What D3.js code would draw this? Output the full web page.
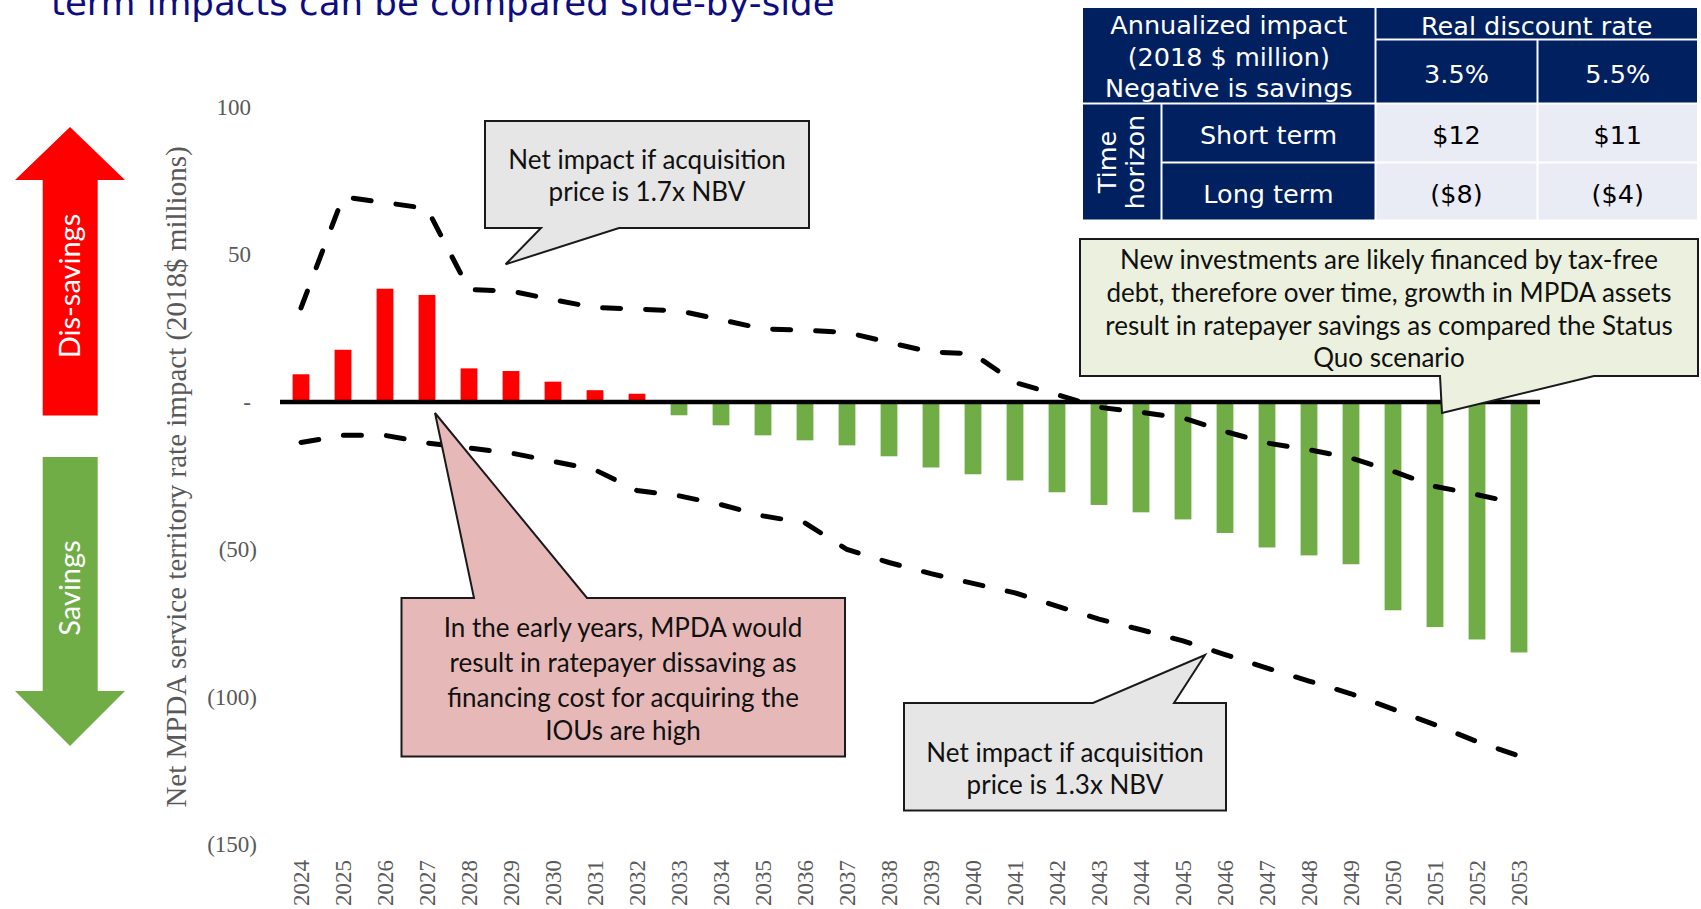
<!DOCTYPE html>
<html>
<head>
<meta charset="utf-8">
<script src="https://cdn.jsdelivr.net/npm/d3@7"></script>
<style>
body { margin: 0; background: #fff; }
svg { display: block; }
</style>
</head>
<body>
<div id="chart"></div>
<script>
// chart values ($ millions, 2018$)
var years = [2024, 2025, 2026, 2027, 2028, 2029, 2030, 2031, 2032, 2033,
             2034, 2035, 2036, 2037, 2038, 2039, 2040, 2041, 2042, 2043,
             2044, 2045, 2046, 2047, 2048, 2049, 2050, 2051, 2052, 2053];
var netImpact = [9.4, 17.7, 38.4, 36.3, 11.4, 10.5, 6.9, 4.0, 2.8, -4.5,
                 -7.9, -11.3, -13.0, -14.7, -18.4, -22.2, -24.5, -26.6, -30.6, -34.9,
                 -37.4, -39.8, -44.4, -49.3, -52.0, -55.0, -70.6, -76.3, -80.5, -84.9];
var high17 = [31.9, 69.5, 67.6, 65.6, 38.1, 37.6, 34.7, 32.0, 31.5, 30.9,
              27.9, 24.8, 24.3, 23.6, 20.2, 16.9, 16.4, 6.6, 2.5, -1.8,
              -3.5, -5.4, -10.0, -13.9, -16.2, -19.0, -23.5, -28.6, -31.4, -34.5];
var low13 = [-13.7, -11.3, -11.3, -13.9, -15.6, -17.3, -20.1, -23.0, -30.0, -31.8,
             -34.8, -38.6, -41.0, -50.0, -54.4, -58.2, -61.5, -64.7, -69.2, -73.6,
             -77.2, -81.0, -85.6, -90.2, -94.6, -98.9, -104.1, -109.4, -115.1, -120.0];
var yTicks = [100, 50, 0, -50, -100, -150];

// summary table
var tableHead = ["Annualized impact", "(2018 $ million)", "Negative is savings"];
var tableRates = ["3.5%", "5.5%"];
var tableHorizons = ["Short term", "Long term"];
var tableValues = [["$12", "$11"], ["($8)", "($4)"]];

var width = 1701, height = 909;
var navy = "#002060";
var serif = "'Liberation Serif', 'Times New Roman', serif";
var sans = "'DejaVu Sans', Verdana, sans-serif";
var calib = "Lato, 'Open Sans', sans-serif";

var svg = d3.select("#chart").append("svg")
    .attr("width", width)
    .attr("height", height);

// title (cut off at top in the original slide)
svg.append("text")
    .attr("x", 51)
    .attr("y", 15)
    .style("font-family", sans)
    .style("font-size", "35.6px")
    .style("fill", "#0d0d80")
    .text("term impacts can be compared side-by-side");

var x = d3.scaleBand()
    .domain(years)
    .range([280, 1540])
    .paddingInner(0.6)
    .paddingOuter(0.3);

var y = d3.scaleLinear()
    .domain([-150, 100])
    .range([844.5, 107]);

var bw = x.bandwidth();

// y axis labels
function yFmt(v) {
    if (v < 0) return "(" + Math.abs(v) + ")";
    if (v == 0) return "-";
    return String(v);
}

var yAxis = svg.append("g")
    .attr("transform", "translate(257,0)")
    .call(d3.axisLeft(y).tickValues(yTicks).tickSize(0).tickPadding(0).tickFormat(yFmt));
yAxis.select(".domain").remove();
yAxis.selectAll("text")
    .style("font-family", serif)
    .style("font-size", "23px")
    .style("fill", "#595959")
    .attr("dx", function(d) { return d >= 0 ? -6 : 0; });

svg.append("text")
    .attr("transform", "translate(186,477) rotate(-90)")
    .attr("text-anchor", "middle")
    .style("font-family", serif)
    .style("font-size", "29px")
    .style("fill", "#595959")
    .text("Net MPDA service territory rate impact (2018$ millions)");

// x axis labels
var xAxis = svg.append("g")
    .attr("transform", "translate(0,860)")
    .call(d3.axisBottom(x).tickSize(0));
xAxis.select(".domain").remove();
xAxis.selectAll("text")
    .attr("transform", "rotate(-90)")
    .attr("x", 0)
    .attr("y", 0)
    .attr("dy", "0.35em")
    .style("text-anchor", "end")
    .style("font-family", serif)
    .style("font-size", "23px")
    .style("fill", "#595959");

// bars
svg.append("g").selectAll("rect")
    .data(years)
    .enter()
    .append("rect")
    .attr("x", function(d) { return x(d); })
    .attr("width", bw)
    .attr("y", function(d, i) { return y(Math.max(0, netImpact[i])); })
    .attr("height", function(d, i) { return Math.abs(y(netImpact[i]) - y(0)); })
    .style("fill", function(d, i) { return netImpact[i] >= 0 ? "#ff0000" : "#70ad47"; });

// zero line
svg.append("line")
    .attr("x1", 280)
    .attr("x2", 1540)
    .attr("y1", y(0))
    .attr("y2", y(0))
    .style("stroke", "#000")
    .style("stroke-width", 4.5);

// dashed scenario lines
var line = d3.line()
    .x(function(d) { return x(d.year) + bw / 2; })
    .y(function(d) { return y(d.v); });

[high17, low13].forEach(function(series) {
    var pts = years.map(function(yr, i) { return {year: yr, v: series[i]}; });
    svg.append("path")
        .datum(pts)
        .attr("d", line)
        .style("fill", "none")
        .style("stroke", "#000")
        .style("stroke-width", 5)
        .style("stroke-linecap", "round")
        .style("stroke-dasharray", "18,25");
});

// side arrows
svg.append("path")
    .attr("d", "M70,127 L125,180 L97.7,180 L97.7,415.5 L42.7,415.5 L42.7,180 L15,180 Z")
    .style("fill", "#ff0000");
svg.append("path")
    .attr("d", "M42.7,457 L97.7,457 L97.7,691 L125,691 L70,746 L15,691 L42.7,691 Z")
    .style("fill", "#70ad47");

svg.append("text")
    .attr("transform", "translate(80,286) rotate(-90)")
    .attr("text-anchor", "middle")
    .style("font-family", calib)
    .style("font-size", "29px")
    .style("fill", "#fff")
    .text("Dis-savings");
svg.append("text")
    .attr("transform", "translate(80,588) rotate(-90)")
    .attr("text-anchor", "middle")
    .style("font-family", calib)
    .style("font-size", "29px")
    .style("fill", "#fff")
    .text("Savings");

// callouts
var callouts = [
    {path: "M485,121 H809 V228 H619 L505.6,264.3 L541,228 H485 Z", fill: "#e6e6e6",
     cx: 647, lines: ["Net impact if acquisition", "price is 1.7x NBV"], ys: [160, 191.7]},
    {path: "M1080,239 H1698 V376 H1594 L1442,413 L1440,376 H1080 Z", fill: "#ebf1de",
     cx: 1389, lines: ["New investments are likely financed by tax-free",
                       "debt, therefore over time, growth in MPDA assets",
                       "result in ratepayer savings as compared the Status",
                       "Quo scenario"], ys: [260, 293, 325.5, 358]},
    {path: "M401.5,598 H474 L435,413 L587,598 H845 V756.5 H401.5 Z", fill: "#e6b9b8",
     cx: 623, lines: ["In the early years, MPDA would", "result in ratepayer dissaving as",
                      "financing cost for acquiring the", "IOUs are high"],
     ys: [627.5, 663, 697.5, 730.5]},
    {path: "M904,703 H1093 L1205,655 L1174,703 H1226 V810.5 H904 Z", fill: "#e6e6e6",
     cx: 1065, lines: ["Net impact if acquisition", "price is 1.3x NBV"], ys: [753.3, 785]}
];

callouts.forEach(function(c) {
    var g = svg.append("g");
    g.append("path")
        .attr("d", c.path)
        .style("fill", c.fill)
        .style("stroke", "#1a1a1a")
        .style("stroke-width", 2);
    g.selectAll("text")
        .data(c.lines)
        .enter()
        .append("text")
        .attr("x", c.cx)
        .attr("y", function(d, i) { return c.ys[i]; })
        .attr("dy", "0.35em")
        .attr("text-anchor", "middle")
        .style("font-family", calib)
        .style("font-size", "26px")
        .style("fill", "#111")
        .text(function(d) { return d; });
});

// table at top right
var colEdges = [1082, 1161.5, 1375.5, 1537.5, 1698];
var rowEdges = [7, 39.5, 103.5, 162.5, 220.5];
var tbl = svg.append("g");

function cell(c0, c1, r0, r1, fill) {
    tbl.append("rect")
        .attr("x", colEdges[c0] + 1)
        .attr("y", rowEdges[r0] + 1)
        .attr("width", colEdges[c1] - colEdges[c0] - 2)
        .attr("height", rowEdges[r1] - rowEdges[r0] - 2)
        .style("fill", fill);
}
function label(txt, cx, cy, color, rot) {
    var t = tbl.append("text")
        .attr("text-anchor", "middle")
        .attr("dy", "0.45em")
        .style("font-family", sans)
        .style("font-size", "25.5px")
        .style("fill", color)
        .text(txt);
    if (rot) t.attr("transform", "translate(" + cx + "," + cy + ") rotate(-90)");
    else t.attr("x", cx).attr("y", cy);
}
function mid(a, i, j) { return (a[i] + a[j]) / 2; }

cell(0, 2, 0, 2, navy);
cell(2, 4, 0, 1, navy);
cell(2, 3, 1, 2, navy);
cell(3, 4, 1, 2, navy);
cell(0, 1, 2, 4, navy);
cell(1, 2, 2, 3, navy);
cell(1, 2, 3, 4, navy);
cell(2, 3, 2, 3, "#e9ebf5");
cell(3, 4, 2, 3, "#e9ebf5");
cell(2, 3, 3, 4, "#e9ebf5");
cell(3, 4, 3, 4, "#e9ebf5");

tableHead.forEach(function(t, i) {
    label(t, mid(colEdges, 0, 2), 22.5 + i * 31.6, "#fff");
});
label("Real discount rate", mid(colEdges, 2, 4), mid(rowEdges, 0, 1), "#fff");
tableRates.forEach(function(t, i) {
    label(t, mid(colEdges, 2 + i, 3 + i), mid(rowEdges, 1, 2), "#fff");
});
label("Time", 1105, mid(rowEdges, 2, 4), "#fff", true);
label("horizon", 1133, mid(rowEdges, 2, 4), "#fff", true);
tableHorizons.forEach(function(t, r) {
    label(t, mid(colEdges, 1, 2), mid(rowEdges, 2 + r, 3 + r), "#fff");
    tableValues[r].forEach(function(v, c) {
        label(v, mid(colEdges, 2 + c, 3 + c), mid(rowEdges, 2 + r, 3 + r), "#000");
    });
});
</script>
</body>
</html>
